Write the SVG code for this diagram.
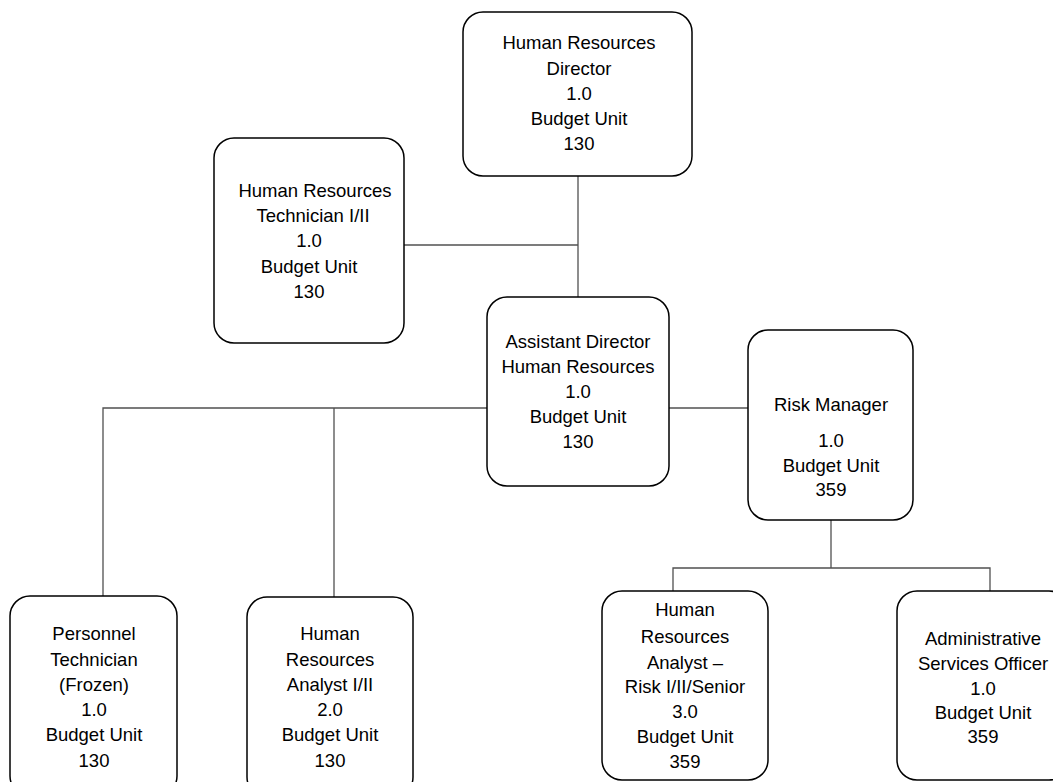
<svg xmlns="http://www.w3.org/2000/svg" width="1053" height="782" viewBox="0 0 1053 782">
  <style>
    .box { fill: #ffffff; stroke: #000000; stroke-width: 1.5; }
    .link { fill: none; stroke: #505050; stroke-width: 1.3; }
    text { font-family: "Liberation Sans", Arial, sans-serif; font-size: 18.5px; fill: #000000; text-anchor: middle; }
  </style>
  <rect width="1053" height="782" fill="#ffffff"/>

  <!-- reporting lines -->
  <g id="connectors">
    <path class="link" d="M578 176 V297"/>
    <path class="link" d="M404 245 H578"/>
    <path class="link" d="M487 408 H103 V596"/>
    <path class="link" d="M334 408 V597"/>
    <path class="link" d="M669 408 H748"/>
    <path class="link" d="M831 520 V568"/>
    <path class="link" d="M673 591 V568 H990 V591"/>
  </g>

  <g id="hr-director">
    <rect class="box" x="463" y="12" width="229" height="164" rx="20"/>
    <text x="579" y="49">Human Resources</text>
    <text x="579" y="75">Director</text>
    <text x="579" y="100">1.0</text>
    <text x="579" y="125">Budget Unit</text>
    <text x="579" y="150">130</text>
  </g>

  <g id="hr-technician">
    <rect class="box" x="214" y="138" width="190" height="205" rx="20"/>
    <text x="315" y="197">Human Resources</text>
    <text x="313" y="222">Technician I/II</text>
    <text x="309" y="247">1.0</text>
    <text x="309" y="273">Budget Unit</text>
    <text x="309" y="298">130</text>
  </g>

  <g id="assistant-director">
    <rect class="box" x="487" y="297" width="182" height="189" rx="20"/>
    <text x="578" y="348">Assistant Director</text>
    <text x="578" y="373">Human Resources</text>
    <text x="578" y="398">1.0</text>
    <text x="578" y="423">Budget Unit</text>
    <text x="578" y="448">130</text>
  </g>

  <g id="risk-manager">
    <rect class="box" x="748" y="330" width="165" height="190" rx="20"/>
    <text x="831" y="411">Risk Manager</text>
    <text x="831" y="447">1.0</text>
    <text x="831" y="472">Budget Unit</text>
    <text x="831" y="496">359</text>
  </g>

  <g id="personnel-technician">
    <rect class="box" x="10" y="596" width="167" height="200" rx="20"/>
    <text x="94" y="640">Personnel</text>
    <text x="94" y="666">Technician</text>
    <text x="94" y="691">(Frozen)</text>
    <text x="94" y="716">1.0</text>
    <text x="94" y="741">Budget Unit</text>
    <text x="94" y="767">130</text>
  </g>

  <g id="hr-analyst">
    <rect class="box" x="247" y="597" width="166" height="200" rx="20"/>
    <text x="330" y="640">Human</text>
    <text x="330" y="666">Resources</text>
    <text x="330" y="691">Analyst I/II</text>
    <text x="330" y="716">2.0</text>
    <text x="330" y="741">Budget Unit</text>
    <text x="330" y="767">130</text>
  </g>

  <g id="hr-analyst-risk">
    <rect class="box" x="602" y="591" width="166" height="189" rx="20"/>
    <text x="685" y="616">Human</text>
    <text x="685" y="643">Resources</text>
    <text x="685" y="669">Analyst –</text>
    <text x="685" y="693">Risk I/II/Senior</text>
    <text x="685" y="718">3.0</text>
    <text x="685" y="743">Budget Unit</text>
    <text x="685" y="768">359</text>
  </g>

  <g id="admin-services-officer">
    <rect class="box" x="897" y="591" width="172" height="189" rx="20"/>
    <text x="983" y="645">Administrative</text>
    <text x="983" y="670">Services Officer</text>
    <text x="983" y="695">1.0</text>
    <text x="983" y="719">Budget Unit</text>
    <text x="983" y="743">359</text>
  </g>
</svg>
